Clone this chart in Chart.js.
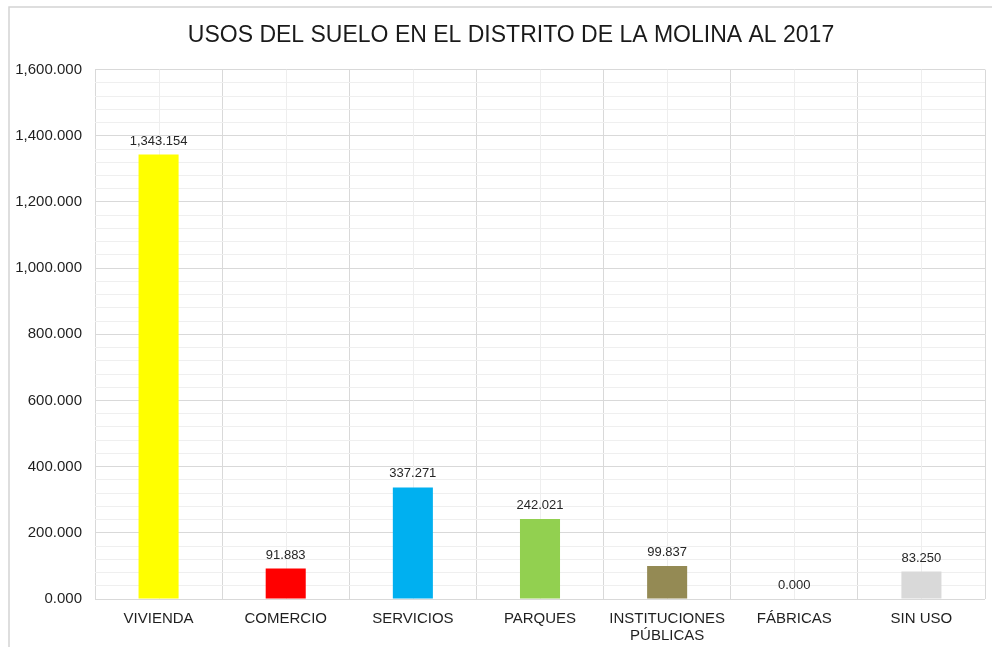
<!DOCTYPE html>
<html>
<head>
<meta charset="utf-8">
<script src="https://cdn.jsdelivr.net/npm/chart.js@4/dist/chart.umd.min.js"></script>
<style>
  html, body { margin: 0; padding: 0; background: #fff; }
  #wrap { width: 992px; height: 647px; position: relative; }
</style>
</head>
<body>
<div id="wrap"><canvas id="plot" width="992" height="647"></canvas></div>
<script>
const plot = document.querySelector("#plot");
const ctx = plot.getContext("2d");

const FONT = "'Liberation Sans', Arial, sans-serif";

const categories = [
  "VIVIENDA",
  "COMERCIO",
  "SERVICIOS",
  "PARQUES",
  ["INSTITUCIONES", "PÚBLICAS"],
  "FÁBRICAS",
  "SIN USO"
];
const values = [1343.154, 91.883, 337.271, 242.021, 99.837, 0.0, 83.25];
const colors = ["#FFFF00", "#FF0000", "#00B0F0", "#92D050", "#948A54", "#A5A5A5", "#D9D9D9"];

const Y_MAX = 1600;
const Y_MAJOR = 200;
const Y_MINOR = 40;

const fmt = v =>
  v.toLocaleString("en-US", { minimumFractionDigits: 3, maximumFractionDigits: 3 });

// white page + thin frame on the top and left edge
const framePlugin = {
  id: "frame",
  afterLayout(chart) {
    // nudge the title a bit to the right
    chart.titleBlock.left += 12;
    chart.titleBlock.right += 12;
  },
  beforeDraw(chart) {
    const c = chart.ctx;
    c.save();
    c.fillStyle = "#fff";
    c.fillRect(0, 0, chart.width, chart.height);
    c.strokeStyle = "#d4d4d4";
    c.lineWidth = 1.5;
    c.beginPath();
    c.moveTo(9, chart.height);
    c.lineTo(9, 7);
    c.lineTo(chart.width, 7);
    c.stroke();
    c.restore();
  }
};

// light vertical line through the middle of every category
const centerLines = {
  id: "centerLines",
  beforeDatasetsDraw(chart) {
    const c = chart.ctx;
    const area = chart.chartArea;
    const x = chart.scales.x;
    c.save();
    c.strokeStyle = "#eeeeee";
    c.lineWidth = 1;
    for (let i = 0; i < categories.length; i++) {
      const px = Math.round(x.getPixelForValue(i)) + 0.5;
      c.beginPath();
      c.moveTo(px, area.top);
      c.lineTo(px, area.bottom);
      c.stroke();
    }
    c.restore();
  }
};

// value written above each bar
const valueLabels = {
  id: "valueLabels",
  afterDatasetsDraw(chart) {
    const c = chart.ctx;
    const meta = chart.getDatasetMeta(0);
    c.save();
    c.font = "13px " + FONT;
    c.fillStyle = "#262626";
    c.textAlign = "center";
    c.textBaseline = "bottom";
    meta.data.forEach((bar, i) => {
      c.fillText(fmt(values[i]), bar.x, bar.y - 7);
    });
    c.restore();
  }
};

const chart = new Chart(ctx, {
  type: "bar",
  data: {
    labels: categories,
    datasets: [
      {
        data: values,
        backgroundColor: colors,
        borderWidth: 0,
        categoryPercentage: 1,
        barPercentage: 0.315
      }
    ]
  },
  options: {
    responsive: false,
    animation: false,
    devicePixelRatio: 1,
    layout: { padding: { left: 13, right: 7, top: 0, bottom: -9 } },
    plugins: {
      legend: { display: false },
      tooltip: { enabled: false },
      title: {
        display: true,
        text: "USOS DEL SUELO EN EL DISTRITO DE LA MOLINA AL 2017",
        color: "#1a1a1a",
        font: { family: FONT, size: 23, weight: "normal" },
        padding: { top: 22, bottom: 20 }
      }
    },
    scales: {
      x: {
        grid: { color: "#d9d9d9", lineWidth: 1, drawTicks: false, offset: true },
        border: { display: false },
        ticks: {
          color: "#1f1f1f",
          font: { family: FONT, size: 15, lineHeight: 1.1 },
          padding: 12,
          maxRotation: 0,
          autoSkip: false
        }
      },
      y: {
        min: 0,
        max: Y_MAX,
        afterFit: s => { s.width = 82; },
        grid: {
          drawTicks: false,
          color: c => (c.tick && c.tick.value % Y_MAJOR === 0 ? "#d9d9d9" : "#efefef"),
          lineWidth: 1
        },
        border: { display: false },
        ticks: {
          stepSize: Y_MINOR,
          autoSkip: false,
          color: "#1f1f1f",
          font: { family: FONT, size: 15 },
          padding: 13,
          callback: v => (v % Y_MAJOR === 0 ? fmt(v) : "")
        }
      }
    }
  },
  plugins: [framePlugin, centerLines, valueLabels]
});
</script>
</body>
</html>
